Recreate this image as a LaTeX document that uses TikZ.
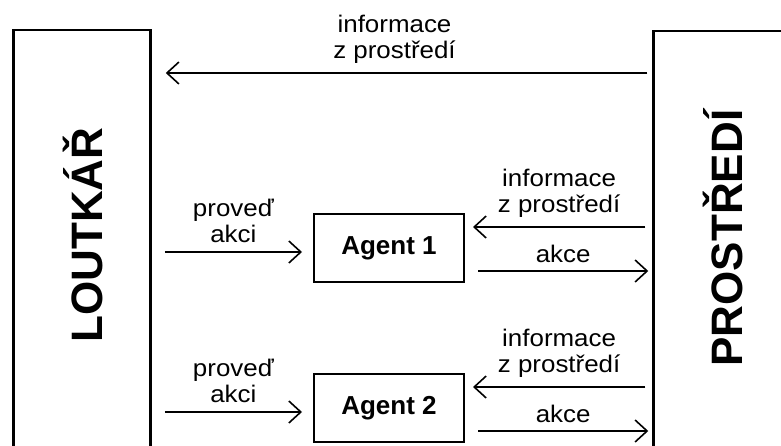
\documentclass[tikz,border=0pt]{standalone}
\usepackage{fontspec}
\setmainfont{Liberation Sans}
\newfontfamily\widefont[FakeStretch=1.08]{Liberation Sans}
\usetikzlibrary{arrows.meta,positioning,calc}

\begin{document}
\begin{tikzpicture}[x=1pt, y=-1pt, >={Straight Barb[length=12pt,width=22pt]},
    side/.style={draw, line width=2.5pt, minimum height=440pt, inner sep=0pt},
    agentbox/.style={draw, line width=2pt, minimum width=150pt, minimum height=68pt, font=\fontsize{26}{30}\selectfont\bfseries},
    title/.style={rotate=90, anchor=base, font=\fontsize{44}{50}\selectfont\bfseries},
    flow/.style={->, line width=1.6pt},
    lbl/.style={align=center, font=\widefont\fontsize{24}{26}\selectfont}]

    % Page
    \useasboundingbox (0,0) rectangle (781,446);
    \clip (0,0) rectangle (781,446);

    % Puppeteer and environment
    \node[side, minimum width=137pt] (loutkar) at (82,250) {};
    \node[side, minimum width=147pt] (prostredi) at (727,251) {};
    \node[title] (loutkarlbl) at (102,235) {LOUTKÁŘ};
    \node[title] (prostredilbl) at (742,238) {PROSTŘEDÍ};

    % Information to the puppeteer
    \draw[flow] ($(prostredi.west |- 0,73)+(-5,0)$) -- ($(loutkar.east |- 0,73)+(14,0)$)
        node[lbl, midway, above=5pt, xshift=-12pt] (toplbl) {informace\\z prostředí};

    % Agents
    \foreach \i/\y in {1/248, 2/408} {
        \node[agentbox] (agent\i) at (389,\y) {Agent \i};
        \draw[flow] ($(loutkar.east |- agent\i.west)+(13,4)$) -- ($(agent\i.west)+(-11,4)$)
            node[lbl, midway, above=5pt] (prov\i) {proveď\\akci};
        \draw[flow] ($(prostredi.west |- agent\i.east)+(-7,-21)$) -- ($(agent\i.east)+(8,-21)$)
            node[lbl, midway, above=5pt] (info\i) {informace\\z prostředí};
        \draw[flow] ($(agent\i.east)+(13,23)$) -- ($(prostredi.west |- agent\i.east)+(-4,23)$)
            node[lbl, midway, above=4pt] (akce\i) {akce};
    }

\end{tikzpicture}
\end{document}
